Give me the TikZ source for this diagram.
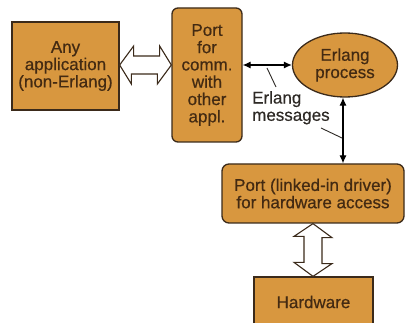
\documentclass[tikz,border=0pt]{standalone}
\usepackage{fontspec}
\setmainfont{Liberation Sans}[FakeBold=0.6]
\newfontfamily\labelfont{Liberation Sans}[FakeBold=0.4]
\usetikzlibrary{shapes.geometric,arrows.meta,calc}
\definecolor{boxfill}{HTML}{D8973F}
\definecolor{boxline}{HTML}{3B2A1A}
\definecolor{boxtext}{HTML}{432A12}
\definecolor{labeltext}{HTML}{2E2A26}
\tikzset{
  box/.style={draw=boxline, line width=1.3pt, fill=boxfill, text=boxtext,
    align=center, inner sep=0pt, font=\fontsize{17}{17.3}\selectfont},
  roundbox/.style={box, rounded corners=6pt},
  hollow/.style={draw=boxline, line width=1.1pt, fill=white, line join=miter},
  msg/.style={draw=black, line width=1.1pt, {Latex[length=8pt,width=7pt]}-{Latex[length=8pt,width=7pt]}},
  leader/.style={draw=labeltext, line width=0.9pt}
}
\begin{document}
\begin{tikzpicture}[x=1pt, y=-1pt]
  \useasboundingbox (0,0) rectangle (405,323);
  \fill[white] (0,0) rectangle (405,323);

  % boxes
  \node[box, minimum width=107pt, minimum height=88pt] (app) at (65.5,66)
    {Any\\application\\(non-Erlang)};
  \node[roundbox, minimum width=70pt, minimum height=134pt] (port) at (207,75)
    {Port\\for\\comm.\\with\\other\\appl.};
  \node[box, ellipse, minimum width=105pt, minimum height=64pt] (erl) at (345,65)
    {Erlang\\process};
  \node[roundbox, rounded corners=7pt, minimum width=182pt, minimum height=59pt] (hwport) at (313,193.5)
    {Port (linked-in driver)\\for hardware access};
  \node[box, minimum width=119pt, minimum height=50pt] (hw) at (313.5,302)
    {Hardware};

  % hollow double arrow between the application and its port
  \draw[hollow] (app.east |- erl) -- ++(14,-19) -- ++(0,10) -- ++(26,0) -- ++(0,-10)
    -- (port.west |- erl) -- ++(-14,19) -- ++(0,-10) -- ++(-26,0) -- ++(0,10) -- cycle;

  % hollow double arrow between the driver port and the hardware
  \draw[hollow] (hwport.south) -- ++(19,14) -- ++(-10,0) -- ++(0,26) -- ++(10,0)
    -- (hw.north -| hwport.south) -- ++(-19,-14) -- ++(10,0) -- ++(0,-26) -- ++(-10,0) -- cycle;

  % message arrows
  \draw[msg] (port.east |- erl) -- (erl.west);
  \draw[msg] ($(erl.south)+(-2,0)$) -- ($(hwport.north -| erl.south)+(-2,0)$);

  % label with its leader lines
  \node[text=labeltext, align=left, anchor=north west, inner sep=0pt,
        font=\labelfont\fontsize{17}{17.3}\selectfont] (msgs) at (252,91) {Erlang\\messages};
  \coordinate (la1) at (267,68);
  \coordinate (la2) at (276,87);
  \coordinate (lb1) at (321,128);
  \coordinate (lb2) at (342,138);
  \draw[leader] (la1) -- (la2);
  \draw[leader] (lb1) -- (lb2);
\end{tikzpicture}
\end{document}
